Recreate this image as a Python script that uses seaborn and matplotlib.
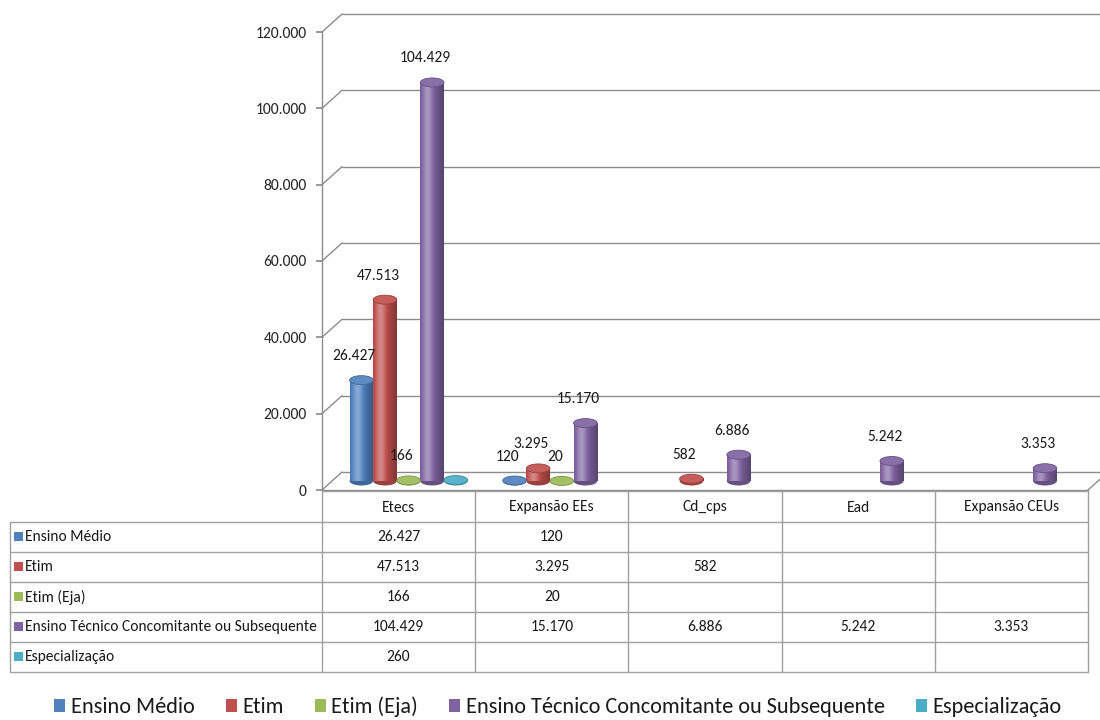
import numpy as np
import pandas as pd
import matplotlib
matplotlib.use('Agg')
import matplotlib.pyplot as plt
import seaborn as sns
from matplotlib.patches import Ellipse, Patch, Rectangle
from matplotlib import font_manager, colors as mcolors

# dados do gráfico
categorias = ['Etecs', 'Expansão EEs', 'Cd_cps', 'Ead', 'Expansão CEUs']
series = ['Ensino Médio', 'Etim', 'Etim (Eja)',
          'Ensino Técnico Concomitante ou Subsequente', 'Especialização']
ensino_medio = [26427, 120, None, None, None]
etim = [47513, 3295, 582, None, None]
etim_eja = [166, 20, None, None, None]
ensino_tecnico = [104429, 15170, 6886, 5242, 3353]
especializacao = [260, None, None, None, None]
series_sem_rotulo = ['Especialização']
y_ticks = [0, 20000, 40000, 60000, 80000, 100000, 120000]
cores = ['#4F81BD', '#C0504D', '#9BBB59', '#8064A2', '#4BACC6']

valores = [ensino_medio, etim, etim_eja, ensino_tecnico, especializacao]
linhas = []
for s, vals in zip(series, valores):
    for c, v in zip(categorias, vals):
        linhas.append({'categoria': c, 'serie': s, 'valor': v})
df = pd.DataFrame(linhas)
df_plot = df.dropna()


def fmt(v):
    return f'{v:,.0f}'.replace(',', '.')


sns.set_theme(style='white')
nomes = {f.name for f in font_manager.fontManager.ttflist}
fonte = 'Carlito' if 'Carlito' in nomes else 'Liberation Sans'
plt.rcParams['font.family'] = [fonte, 'DejaVu Sans']
plt.rcParams['text.color'] = '#1a1a1a'

W, H = 1100, 720
L, R, B, T = 322, 1088, 490, 32
ymax = 120000
grid = '#8C8C8C'
fs = 11.2

fig = plt.figure(figsize=(W / 100, H / 100), dpi=100)
ax = fig.add_axes([L / W, (H - B) / H, (R - L) / W, (B - T) / H])

sns.barplot(data=df_plot, x='categoria', y='valor', hue='serie', order=categorias,
            hue_order=series, palette=cores, width=0.77, saturation=1,
            legend=False, ax=ax, edgecolor='none')

sx = (R - L) / len(categorias)      # px por categoria
py = (B - T) / ymax                  # px por unidade
dx = 20 / sx
dy = 18 / py
eh = 9 / py

# parede de fundo e linhas de grade em perspectiva
for v in y_ticks:
    ax.plot([-0.5, -0.5 + dx], [v, v + dy], color=grid, lw=1, clip_on=False, zorder=0.5)
    ax.plot([-0.5 + dx, 4.5 + dx], [v + dy, v + dy], color=grid, lw=1, clip_on=False, zorder=0.5)
ax.plot([-0.5, -0.5], [0, ymax], color=grid, lw=1, clip_on=False, zorder=0.5)
ax.plot([-0.5, 4.5], [0, 0], color=grid, lw=1, clip_on=False, zorder=0.5)
ax.plot([4.5, 4.5 + dx], [0, dy], color=grid, lw=1, clip_on=False, zorder=0.5)


def cilindro(cor, n=64):
    t = np.linspace(0, 1, n)
    f = 0.38 * np.exp(-((t - 0.32) / 0.22) ** 2) - 0.32 * t ** 2 - 0.12 * (1 - t) ** 4
    base = np.array(mcolors.to_rgb(cor))
    img = np.zeros((1, n, 3))
    for k in range(n):
        if f[k] >= 0:
            img[0, k] = base + (1 - base) * f[k]
        else:
            img[0, k] = base * (1 + f[k])
    return np.clip(img, 0, 1)


for cont, s, cor in zip(ax.containers, series, cores):
    for bar in cont:
        h = bar.get_height()
        if np.isnan(h):
            continue
        w = bar.get_width()
        x0 = bar.get_x() + dx / 2
        y0 = dy / 2
        bar.set_visible(False)
        cx = x0 + w / 2
        escuro = np.array(mcolors.to_rgb(cor)) * 0.8
        ax.add_patch(Ellipse((cx, y0), w, eh, facecolor=escuro, edgecolor='none',
                             zorder=2.9, clip_on=False))
        ax.imshow(cilindro(cor), extent=(x0, x0 + w, y0, y0 + h), aspect='auto',
                  interpolation='bicubic', zorder=3, clip_on=False)
        topo = np.array(mcolors.to_rgb(cor))
        topo = topo + (1 - topo) * 0.08
        ax.add_patch(Ellipse((cx, y0 + h), w, eh, facecolor=topo, edgecolor=escuro,
                             lw=0.6, zorder=3.2, clip_on=False))
        if s not in series_sem_rotulo:
            ax.annotate(fmt(h), (cx, y0 + h), xytext=(-7, 24), textcoords='offset pixels',
                        ha='center', va='center', fontsize=fs, zorder=5)

ax.set_xlim(-0.5, 4.5)
ax.set_ylim(0, ymax)
ax.set_xticks([])
ax.set_yticks(y_ticks)
ax.set_yticklabels([fmt(v) for v in y_ticks])
ax.tick_params(axis='y', left=True, length=4, color=grid, pad=7, labelsize=fs)
ax.set_xlabel('')
ax.set_ylabel('')
for sp in ax.spines.values():
    sp.set_visible(False)
ax.patch.set_alpha(0)

# tabela de dados
tab = fig.add_axes([0, 0, 1, 1])
tab.set_xlim(0, W)
tab.set_ylim(H, 0)
tab.axis('off')
tab.patch.set_alpha(0)
linha_tab = '#A0A0A0'
col_x = [L + sx * i for i in range(len(categorias) + 1)]
topo_tab = B + 1
row_h = 30
y_rows = [topo_tab + 31 + row_h * i for i in range(len(series) + 1)]
x_esq = 10

tab.plot([col_x[0], col_x[-1]], [topo_tab, topo_tab], color=linha_tab, lw=1)
for y in y_rows:
    tab.plot([x_esq, col_x[-1]], [y, y], color=linha_tab, lw=1)
for x in col_x:
    tab.plot([x, x], [topo_tab, y_rows[-1]], color=linha_tab, lw=1)
tab.plot([x_esq, x_esq], [y_rows[0], y_rows[-1]], color=linha_tab, lw=1)

for j, c in enumerate(categorias):
    tab.text((col_x[j] + col_x[j + 1]) / 2, (topo_tab + y_rows[0]) / 2 + 1, c,
             ha='center', va='center', fontsize=fs)
for i, (s, vals, cor) in enumerate(zip(series, valores, cores)):
    yc = (y_rows[i] + y_rows[i + 1]) / 2
    tab.add_patch(Rectangle((14, yc - 5), 9, 9, facecolor=cor, edgecolor='none'))
    tab.text(25, yc, s, ha='left', va='center', fontsize=fs)
    for j, v in enumerate(vals):
        if v is not None:
            tab.text((col_x[j] + col_x[j + 1]) / 2, yc, fmt(v),
                     ha='center', va='center', fontsize=fs)

# legenda
handles = [Patch(facecolor=c, edgecolor='none', label=s) for s, c in zip(series, cores)]
fig.legend(handles=handles, loc='center', bbox_to_anchor=(558 / W, 1 - 707 / H),
           ncol=5, frameon=False, fontsize=16, handlelength=0.5, handleheight=0.5,
           handletextpad=0.25, columnspacing=1.4, borderpad=0)

fig.savefig('out.png', dpi=100)
